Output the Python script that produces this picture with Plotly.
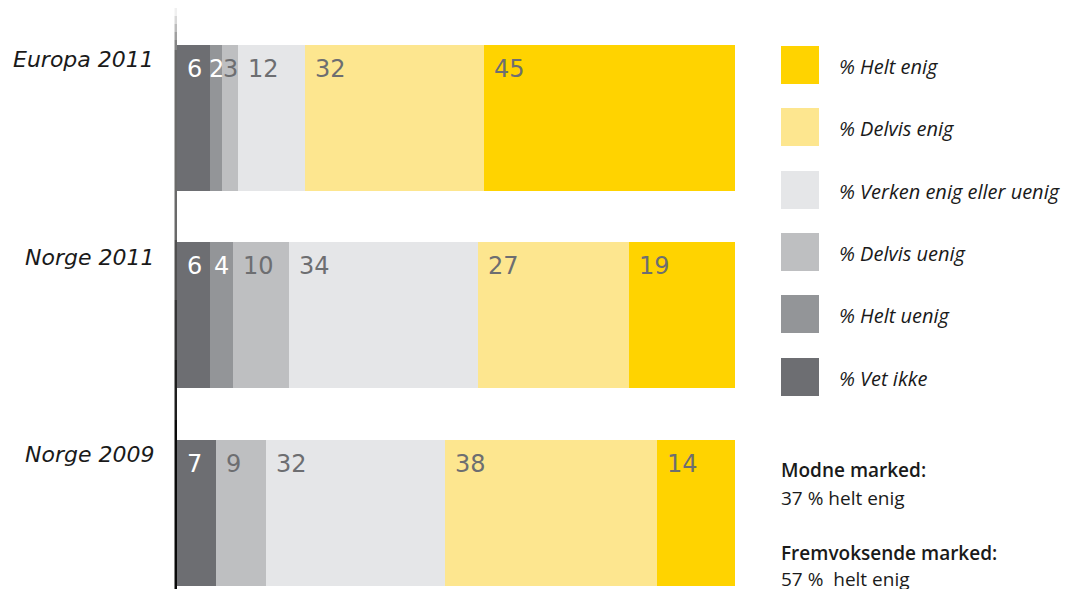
import plotly.graph_objects as go

# ---- data ----
categories = ["Europa 2011", "Norge 2011", "Norge 2009"]
series_names = ["% Vet ikke", "% Helt uenig", "% Delvis uenig",
                "% Verken enig eller uenig", "% Delvis enig", "% Helt enig"]
vet_ikke = [6, 6, 7]
helt_uenig = [2, 4, 0]
delvis_uenig = [3, 10, 9]
verken = [12, 34, 32]
delvis_enig = [32, 27, 38]
helt_enig = [45, 19, 14]
notes = ["Modne marked:", "37 % helt enig", "Fremvoksende marked:", "57 %\u00a0 helt enig"]

series = [vet_ikke, helt_uenig, delvis_uenig, verken, delvis_enig, helt_enig]
colors = ["#6d6e72", "#939598", "#bebfc1", "#e5e6e8", "#fde68f", "#ffd300"]
label_colors = ["#ffffff", "#ffffff", "#6d6e71", "#6d6e71", "#6d6e71", "#6d6e71"]

OFF = 8  # page body margin
W, H = 1069 - OFF, 589 - OFF
L, R, T, B = 177 - OFF, 334, 19 - OFF, 0
PW = W - L - R
PH = H - T - B


def px_x(px):
    # px is in screen (reference) pixels
    return (px - OFF - L) / PW


def px_y(py):
    return (H - B - (py - OFF)) / PH


fig = go.Figure()
for name, vals, col in zip(series_names, series, colors):
    fig.add_trace(go.Bar(
        y=categories, x=vals, name=name, orientation="h",
        marker=dict(color=col, line=dict(width=0)),
        hoverinfo="x+name",
    ))

annotations = []
px_per_unit = PW / 100.0
for ci, cat in enumerate(categories):
    start = 0
    for si, vals in enumerate(series):
        v = vals[ci]
        if v > 0:
            txt = str(v)
            lw = 15 * len(txt)
            seg_w = v * px_per_unit
            if seg_w < lw + 10:
                annotations.append(dict(x=start + v / 2, y=cat, xref="x", yref="y", text=txt,
                                        xanchor="center", yanchor="middle", yshift=49,
                                        showarrow=False,
                                        font=dict(family="DejaVu Sans", size=24, color=label_colors[si])))
            else:
                annotations.append(dict(x=start, y=cat, xref="x", yref="y", text=txt,
                                        xanchor="left", yanchor="middle", xshift=8, yshift=49,
                                        showarrow=False,
                                        font=dict(family="DejaVu Sans", size=24, color=label_colors[si])))
        start += v
    annotations.append(dict(x=0, y=cat, xref="x", yref="y", text="<i>" + cat + "</i>",
                            xanchor="right", yanchor="middle", xshift=-21, yshift=58,
                            showarrow=False,
                            font=dict(family="DejaVu Sans", size=22, color="#1a1a1a")))

shapes = []
legend_tops = [46, 108, 171, 233, 295, 358]
for k, si in enumerate(range(len(series_names) - 1, -1, -1)):
    top = legend_tops[k]
    shapes.append(dict(type="rect", xref="paper", yref="paper",
                       x0=px_x(781), x1=px_x(819), y0=px_y(top + 38), y1=px_y(top),
                       fillcolor=colors[si], line=dict(width=0)))
    annotations.append(dict(x=px_x(837), y=px_y(top + 20), xref="paper", yref="paper",
                            text="<i>" + series_names[si] + "</i>", xanchor="left", yanchor="middle",
                            showarrow=False,
                            font=dict(family="Open Sans", size=20, color="#1a1a1a")))

note_y = [470, 498, 553, 579]
for i, (t, yy) in enumerate(zip(notes, note_y)):
    bold = i in (0, 2)
    annotations.append(dict(x=px_x(779), y=px_y(yy), xref="paper", yref="paper",
                            text=t, xanchor="left", yanchor="middle", showarrow=False,
                            font=dict(family="Open Sans", size=19, color="#1a1a1a",
                                      weight=600 if bold else 400)))

grad = [(8, 16, "#f0f0f0"), (16, 24, "#d8d8d8"), (24, 32, "#bcbcbc"), (32, 40, "#a0a0a0"),
        (40, 50, "#858585"), (50, 240, "#6a6a6a"), (240, 300, "#505050"), (300, 360, "#353535"),
        (360, 420, "#1e1e1e"), (420, 589, "#0a0a0a")]
for y0, y1, c in grad:
    shapes.append(dict(type="rect", xref="paper", yref="paper",
                       x0=px_x(174.5), x1=px_x(177), y0=px_y(y1), y1=px_y(y0),
                       fillcolor=c, line=dict(width=0), layer="above"))

fig.update_layout(
    width=W, height=H,
    margin=dict(l=L, r=R, t=T, b=B, pad=0),
    barmode="stack", bargap=0.261,
    showlegend=False,
    plot_bgcolor="white", paper_bgcolor="white",
    xaxis=dict(range=[0, 100], visible=False, fixedrange=True),
    yaxis=dict(range=[2.386, -0.5], showticklabels=False, showgrid=False,
               zeroline=False, showline=False, ticks="", fixedrange=True),
    annotations=annotations, shapes=shapes,
)

fig.write_html("out.html")
